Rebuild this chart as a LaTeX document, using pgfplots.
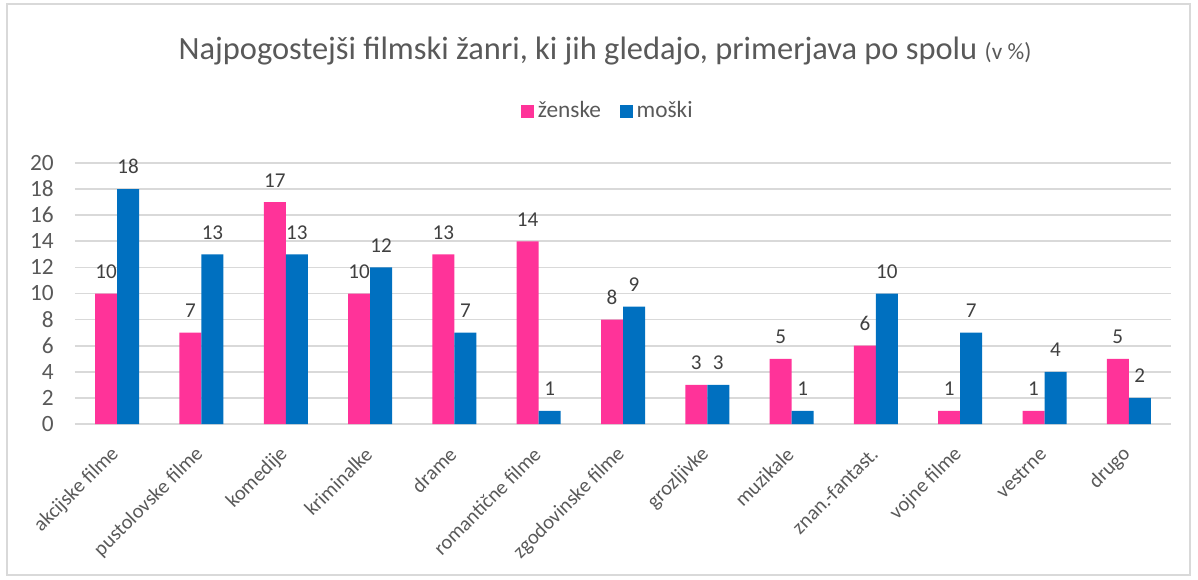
\documentclass[border=0pt]{standalone}
\usepackage{fontspec}
\setmainfont{Carlito}
\usepackage{pgfplots}
\pgfplotsset{compat=1.18}
\definecolor{pinkbar}{HTML}{FF3399}
\definecolor{bluebar}{HTML}{0070C0}
\definecolor{gridc}{HTML}{D9D9D9}
\definecolor{txt}{HTML}{595959}
\definecolor{lbl}{HTML}{404040}
\begin{document}
\begin{tikzpicture}
\path[use as bounding box] (0pt,0pt) rectangle (539.1pt,260.55pt);
\draw[gridc, line width=0.6pt] (3.15pt,1.8pt) rectangle (535.5pt,258.75pt);
\node[txt, font=\fontsize{14.6}{17}\selectfont] at (272.25pt,237.6pt) {Najpogostejši filmski žanri, ki jih gledajo, primerjava po spolu {\fontsize{10.5}{12}\selectfont(v \%)}};
\begin{axis}[
  at={(33.75pt,69.75pt)}, anchor=south west,
  scale only axis, width=493.2pt, height=117.45pt,
  xmin=-0.5, xmax=12.5, ymin=0, ymax=20,
  ybar=0pt, bar width=9.9pt,
  xtick={0,...,12},
  xticklabels={akcijske filme,pustolovske filme,komedije,kriminalke,drame,romantične filme,zgodovinske filme,grozljivke,muzikale,znan.-fantast.,vojne filme,vestrne,drugo},
  xticklabel style={anchor=east, yshift=-5.4pt, xshift=1.8pt, rotate=45, font=\fontsize{9.2}{11}\selectfont, text=txt},
  ytick={0,2,...,20},
  yticklabel style={font=\fontsize{10.5}{12}\selectfont, text=txt, xshift=-6pt},
  /pgf/number format/assume math mode=true,
  ymajorgrids, major grid style={gridc, line width=0.8pt},
  axis line style={draw=none},
  tick style={draw=none},
  nodes near coords,
  every node near coord/.append style={font=\fontsize{9.5}{11}\selectfont, text=lbl, anchor=south, yshift=3.2pt},
  legend style={at={(0.487,1.199)}, anchor=center, draw=none, fill=none, legend columns=2,
    font=\fontsize{10.5}{12}\selectfont, text=txt,
    nodes={inner xsep=1.6pt},
    /tikz/every even column/.append style={column sep=7pt}},
  legend image code/.code={\fill[#1] (0pt,-2.9pt) rectangle (5.85pt,2.9pt);},
]
\addplot[fill=pinkbar, draw=none] coordinates {(0,10) (1,7) (2,17) (3,10) (4,13) (5,14) (6,8) (7,3) (8,5) (9,6) (10,1) (11,1) (12,5)};
\addplot[fill=bluebar, draw=none] coordinates {(0,18) (1,13) (2,13) (3,12) (4,7) (5,1) (6,9) (7,3) (8,1) (9,10) (10,7) (11,4) (12,2)};
\legend{ženske, moški}
\end{axis}
\end{tikzpicture}
\end{document}
